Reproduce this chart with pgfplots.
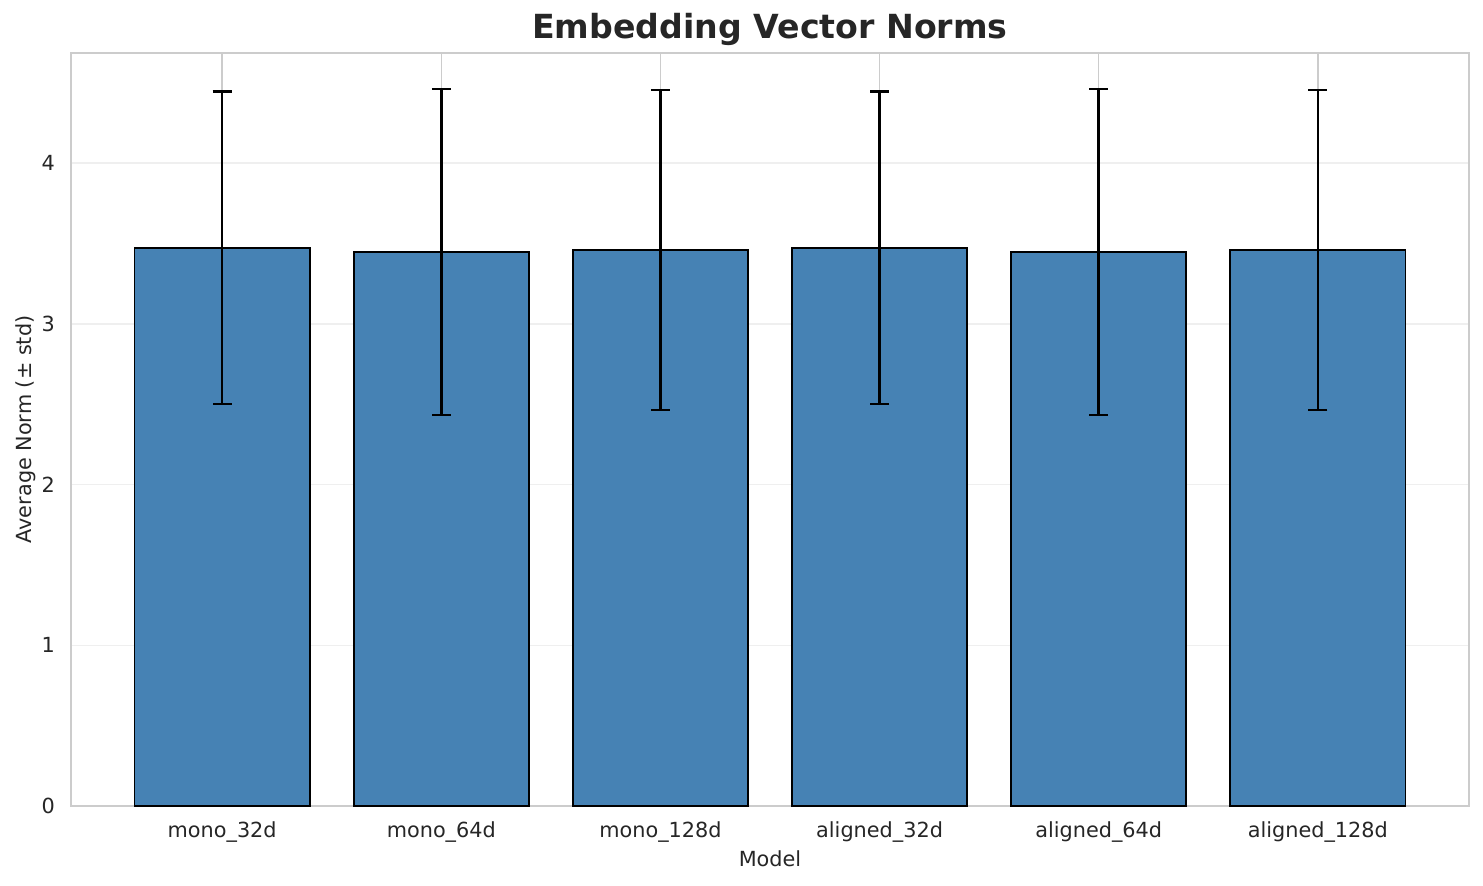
\documentclass[border=0pt]{standalone}
\usepackage{fontspec}
\setmainfont{DejaVu Sans}
\usepackage{pgfplots}
\pgfplotsset{compat=1.18}
\usepackage{pgfplotstable}

\definecolor{barblue}{HTML}{4682B4}
\definecolor{txt}{HTML}{262626}
\definecolor{spine}{HTML}{CCCCCC}
\definecolor{ygrid}{HTML}{EFEFEF}

% mean norm and std per model
\pgfplotstableread{
x  y      err
0  3.474  0.973
1  3.447  1.014
2  3.461  0.996
3  3.474  0.973
4  3.447  1.014
5  3.461  0.996
}\normdata

\begin{document}
\begin{tikzpicture}
\begin{axis}[
    at={(0,0)}, anchor=south west,
    scale only axis,
    width=699pt, height=376.5pt,
    xmin=-0.69, xmax=5.69,
    ymin=0, ymax=4.686,
    ybar, bar width=0.8,
    xtick={0,1,2,3,4,5},
    xticklabels={mono\_32d, mono\_64d, mono\_128d, aligned\_32d, aligned\_64d, aligned\_128d},
    ytick={0,1,2,3,4},
    major tick length=0pt,
    /pgf/number format/assume math mode=true,
    tick label style={font=\fontsize{10.4}{12}\selectfont, text=txt},
    xticklabel style={anchor=base, yshift=-15.5pt},
    yticklabel style={xshift=-4.5pt},
    xmajorgrids, ymajorgrids,
    x grid style={color=spine, line width=0.75pt},
    y grid style={color=ygrid, line width=0.75pt},
    axis line style={color=spine, line width=1pt},
    xlabel={Model},
    ylabel={Average Norm (± std)},
    label style={font=\fontsize{10.4}{12}\selectfont, text=txt},
    xlabel style={at={(axis description cs:0.5,-0.081)}, anchor=base},
    ylabel style={at={(axis description cs:-0.0286,0.5)}, anchor=base, rotate=0},
    every axis title shift=0pt,
    title={Embedding Vector Norms},
    title style={at={(axis description cs:0.5,1.0186)}, anchor=base,
        font=\fontsize{16.6}{19}\selectfont\bfseries, text=txt},
]
\addplot[fill=barblue, draw=black, line width=0.85pt,
    error bars/.cd, y dir=both, y explicit,
    error bar style={line width=1.3pt, black},
    error mark options={rotate=90, line width=1.3pt, black, mark size=4.75pt}]
    table[x=x, y=y, y error=err] {\normdata};
\end{axis}
\pgfresetboundingbox
\path (-35.5pt,-39.5pt) rectangle (706pt,403pt);
\end{tikzpicture}
\end{document}
